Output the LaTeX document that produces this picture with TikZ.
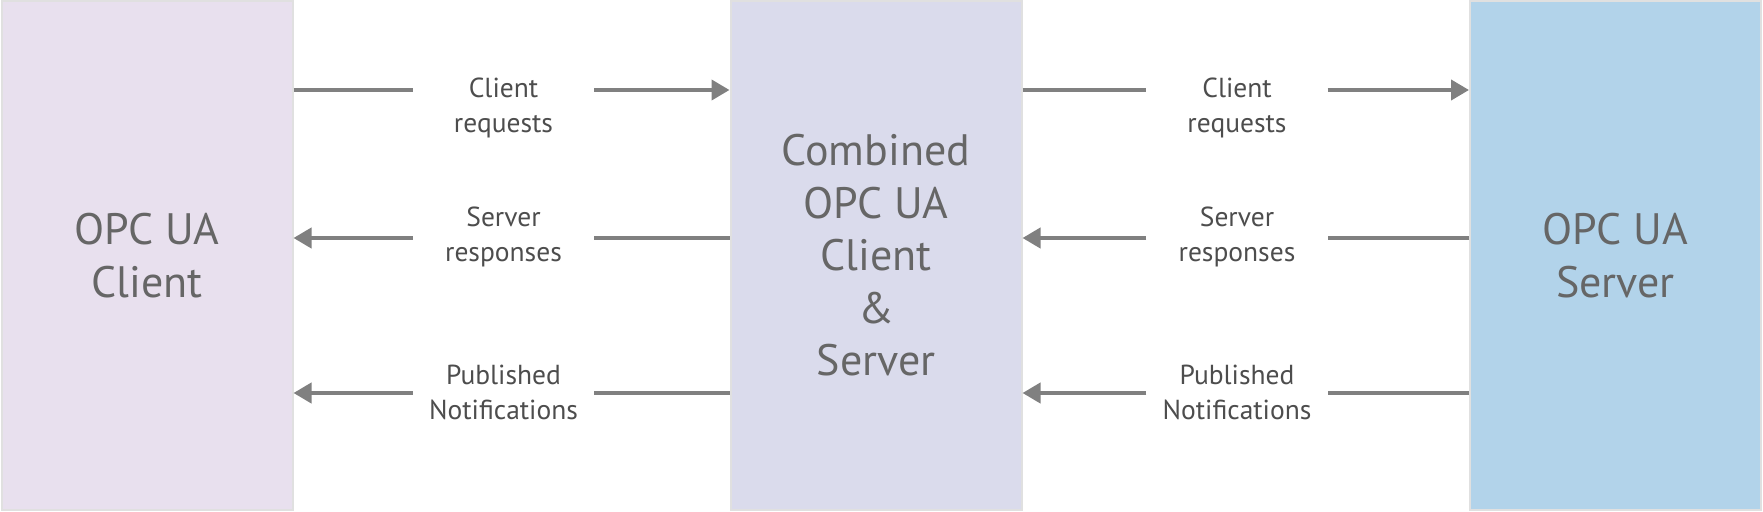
\documentclass[tikz,border=0pt]{standalone}
\usepackage{fontspec}
\setmainfont{PT Sans}
\usetikzlibrary{arrows.meta}
\definecolor{cleft}{HTML}{E8E0EE}
\definecolor{cmid}{HTML}{DADBEC}
\definecolor{cright}{HTML}{B2D3EA}
\definecolor{cedge}{HTML}{E0E0E0}
\definecolor{cline}{HTML}{808080}
\definecolor{ctitle}{HTML}{666666}
\definecolor{clabel}{HTML}{4D4D4D}
\begin{document}
\begin{tikzpicture}[x=1pt,y=-1pt,
  box/.style={draw=cedge,line width=2pt,minimum width=291pt,minimum height=508pt,inner sep=0pt,
    align=center,text=ctitle,font=\fontsize{44}{52.5}\selectfont},
  lbl/.style={minimum width=181pt,inner sep=0pt,align=center,text=clabel,font=\fontsize{27.5}{35}\selectfont},
  seg/.style={draw=cline,line width=4pt},
  arr/.style={seg,-{Triangle[length=18pt,width=20pt]}}]
\useasboundingbox (0,0) rectangle (1763,511);
\node[box,fill=cleft]  (L) at (147,255.5) {OPC UA\\Client};
\node[box,fill=cmid]   (M) at (876,255.5) {Combined\\OPC UA\\Client\\\&\\Server};
\node[box,fill=cright] (R) at (1615.5,255.5) {OPC UA\\Server};
\coordinate (r1) at (0,90);
\coordinate (r2) at (0,238);
\coordinate (r3) at (0,393);
% left column labels
\node[lbl] (a1) at (503.5,108) {Client\\requests};
\node[lbl] (a2) at (503.5,237) {Server\\responses};
\node[lbl] (a3) at (503.5,392) {Published\\Notifications};
% right column labels
\node[lbl] (b1) at (1237,108) {Client\\requests};
\node[lbl] (b2) at (1237,237) {Server\\responses};
\node[lbl] (b3) at (1237,392) {Published\\Notifications};
% left column connectors
\draw[seg] (L.east |- r1) -- (a1.west |- r1);
\draw[arr] (a1.east |- r1) -- (M.west |- r1);
\draw[seg] (M.west |- r2) -- (a2.east |- r2);
\draw[arr] (a2.west |- r2) -- (L.east |- r2);
\draw[seg] (M.west |- r3) -- (a3.east |- r3);
\draw[arr] (a3.west |- r3) -- (L.east |- r3);
% right column connectors
\draw[seg] (M.east |- r1) -- (b1.west |- r1);
\draw[arr] (b1.east |- r1) -- (R.west |- r1);
\draw[seg] (R.west |- r2) -- (b2.east |- r2);
\draw[arr] (b2.west |- r2) -- (M.east |- r2);
\draw[seg] (R.west |- r3) -- (b3.east |- r3);
\draw[arr] (b3.west |- r3) -- (M.east |- r3);
\end{tikzpicture}
\end{document}
